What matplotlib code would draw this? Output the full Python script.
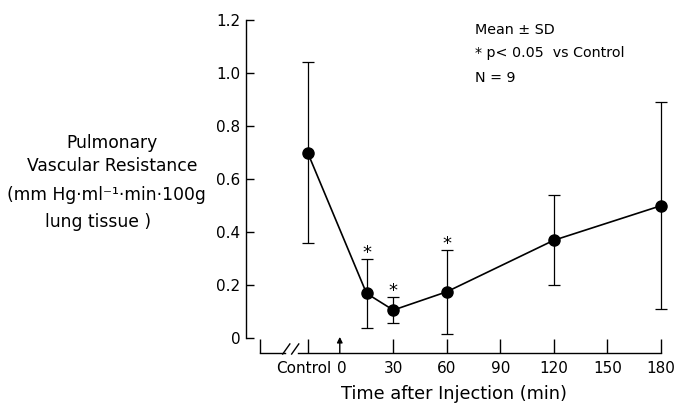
import matplotlib

matplotlib.use("Agg")
import matplotlib.pyplot as plt
import matplotlib.transforms as mtransforms
import numpy as np

# data
groups = ["Control", "15", "30", "60", "120", "180"]
x_pos = [-18, 15, 30, 60, 120, 180]          # control is drawn left of the break
pvr_mean = [0.70, 0.17, 0.107, 0.176, 0.37, 0.50]
pvr_sd = [0.34, 0.13, 0.048, 0.158, 0.17, 0.39]
significant = [False, True, True, True, False, False]

tick_pos = [-18, 0, 30, 60, 90, 120, 150, 180]
tick_labels = ["Control", "0", "30", "60", "90", "120", "150", "180"]
y_ticks = [0, 0.2, 0.4, 0.6, 0.8, 1.0, 1.2]
y_tick_labels = ["0", "0.2", "0.4", "0.6", "0.8", "1.0", "1.2"]

plt.rcParams["font.family"] = "DejaVu Sans"
fs = 11

fig = plt.figure(figsize=(6.74, 4.03), dpi=100)
ax = fig.add_axes([0.3454, 0.1074, 0.6482, 0.8759])
ax.set_xlim(-60, 185)
ax.set_ylim(-0.08, 1.25)

lw = 1.0
ax.errorbar(x_pos, pvr_mean, yerr=pvr_sd, fmt="none", ecolor="black",
            elinewidth=0.9, capsize=4, capthick=0.9, zorder=2)
ax.plot(x_pos, pvr_mean, color="black", lw=1.2, marker="o", markersize=8,
        markerfacecolor="black", zorder=3)

for x, m, s, sig in zip(x_pos, pvr_mean, pvr_sd, significant):
    if sig:
        ax.annotate("*", (x, m + s), xytext=(0, -2), textcoords="offset points",
                    ha="center", va="bottom", fontsize=13)

# axes lines
x_axis_y = -0.0546
ax.spines[["top", "right"]].set_visible(False)
ax.spines["left"].set_position(("data", -52.6))
ax.spines["left"].set_bounds(0, 1.2)
ax.spines["bottom"].set_position(("data", x_axis_y))
ax.spines["bottom"].set_bounds(-23.4, 180)
for sp in ("left", "bottom"):
    ax.spines[sp].set_linewidth(lw)

ax.set_yticks(y_ticks, y_tick_labels, fontsize=fs)
ax.set_xticks(tick_pos, tick_labels, fontsize=fs)
ax.set_xticks([-44.8], minor=True)
ax.tick_params(axis="y", direction="in", length=6, width=lw, pad=4)
ax.tick_params(axis="x", which="both", direction="in", length=10, width=lw, pad=6)
ax.xaxis.get_major_ticks()[1].tick1line.set_visible(False)

# nudge "Control" and "0" apart a little
xt = ax.get_xticklabels()
for lab, dx in ((xt[0], -4), (xt[1], 2)):
    lab.set_transform(lab.get_transform()
                      + mtransforms.ScaledTranslation(dx / 100, 0, fig.dpi_scale_trans))

# broken segment of the time axis
ax.plot([-44.8, -30.8], [x_axis_y, x_axis_y], color="black", lw=lw, clip_on=False)
for x0 in (-32.0, -27.0):
    ax.plot([x0, x0 + 4.0], [x_axis_y - 0.004, x_axis_y + 0.034], color="black",
            lw=lw, clip_on=False)

# injection arrow at time 0
ax.annotate("", xy=(0, 0.006), xytext=(0, x_axis_y),
            arrowprops=dict(arrowstyle="-|>", color="black", lw=lw,
                            mutation_scale=8, shrinkA=0, shrinkB=0))

ax.set_xlabel("Time after Injection (min)", fontsize=12.8)
ax.xaxis.set_label_coords(0.506, -0.071)

# y label, one text per line
ylab = [("Pulmonary", 112, 143), ("Vascular Resistance", 112, 166),
        ("(mm Hg\u00b7ml\u207b\u00b9\u00b7min\u00b7100g", 106, 195),
        ("lung tissue )", 98, 222)]
for txt, px, py in ylab:
    fig.text(px / 674, 1 - py / 403, txt, ha="center", va="center", fontsize=12.3)

notes = [("Mean \u00b1 SD", 30), ("* p< 0.05  vs Control", 53), ("N = 9", 78)]
for txt, py in notes:
    fig.text(475 / 674, 1 - py / 403, txt, ha="left", va="center", fontsize=10.3)

fig.savefig("out.png", dpi=100)
